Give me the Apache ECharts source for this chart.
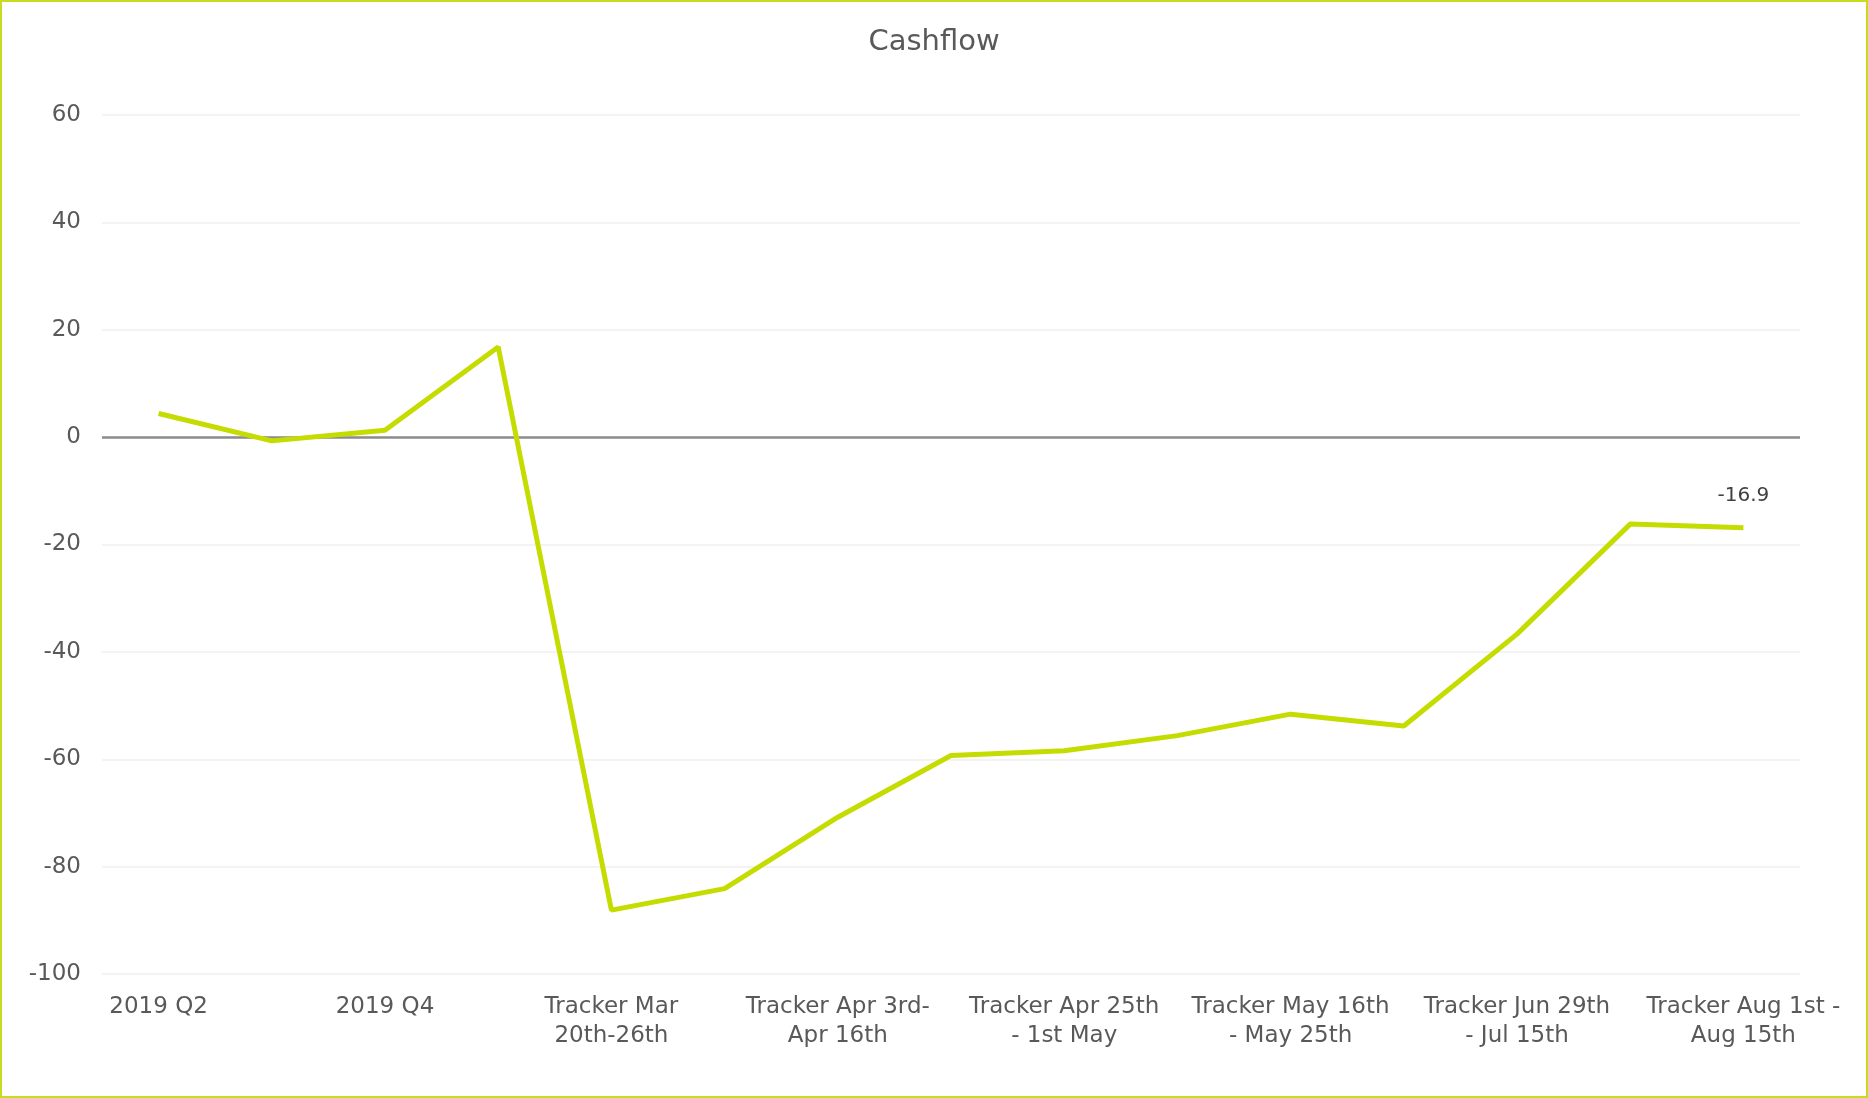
<!DOCTYPE html>
<html><head><meta charset="utf-8">
<script src="https://cdn.jsdelivr.net/npm/echarts@6/dist/echarts.min.js"></script>
<style>
html,body{margin:0;padding:0;background:#fff;}
#c{width:1868px;height:1098px;box-sizing:border-box;border:2px solid #c8dc1e;}
</style></head>
<body><div id="c"></div>
<script>
const categories = [
  "2019 Q2", "2019 Q3", "2019 Q4", "2020 Q1",
  "Tracker Mar\n20th-26th", "Tracker Mar 27th-\nApr 2nd",
  "Tracker Apr 3rd-\nApr 16th", "Tracker Apr 17th\n- Apr 24th",
  "Tracker Apr 25th\n- 1st May", "Tracker May 2nd\n- May 15th",
  "Tracker May 16th\n- May 25th", "Tracker May 26th\n- Jun 28th",
  "Tracker Jun 29th\n- Jul 15th", "Tracker Jul 16th\n- Jul 31st",
  "Tracker Aug 1st -\nAug 15th"
];
const cashflow = [4.4, -0.7, 1.3, 16.8, -88.1, -84.1, -70.8, -59.3, -58.4, -55.6, -51.6, -53.8, -36.7, -16.2, -16.9];
const yTicks = {min: -100, max: 60, interval: 20};

const chart = echarts.init(document.getElementById('c'), null, {renderer: 'canvas'});
const font = "'DejaVu Sans', sans-serif";
chart.setOption({
  animation: false,
  title: {
    text: 'Cashflow', left: 'center', top: 21,
    textStyle: {color: '#595959', fontSize: 29, fontWeight: 'normal', fontFamily: font}
  },
  grid: {left: 100, right: 66, top: 113, bottom: 122, containLabel: false},
  xAxis: {
    type: 'category', data: categories, boundaryGap: true,
    axisLine: {show: false}, axisTick: {show: false},
    axisLabel: {interval: 1, color: '#595959', fontSize: 23, fontFamily: font, margin: 19, lineHeight: 29}
  },
  yAxis: {
    type: 'value', min: yTicks.min, max: yTicks.max, interval: yTicks.interval,
    axisLine: {show: false}, axisTick: {show: false},
    axisLabel: {color: '#595959', fontSize: 23, fontFamily: font, margin: 21},
    splitLine: {lineStyle: {color: '#efefef', width: 1.5}}
  },
  series: [{
    type: 'line', data: cashflow, symbol: 'none',
    lineStyle: {color: '#c5dc00', width: 5},
    z: 3,
    label: {show: false},
    markLine: {
      silent: true, symbol: 'none', label: {show: false},
      lineStyle: {color: '#8c8c8c', width: 2.5, type: 'solid'},
      data: [{yAxis: 0}], z: 2
    },
    markPoint: {
      symbol: 'circle', symbolSize: 0,
      label: {show: true, position: 'top', distance: 22, color: '#404040', fontSize: 20, fontFamily: font,
        formatter: p => p.value.toFixed(1)},
      data: [{coord: [categories.length - 1, cashflow[cashflow.length - 1]], value: cashflow[cashflow.length - 1]}]
    }
  }]
});
</script></body></html>
